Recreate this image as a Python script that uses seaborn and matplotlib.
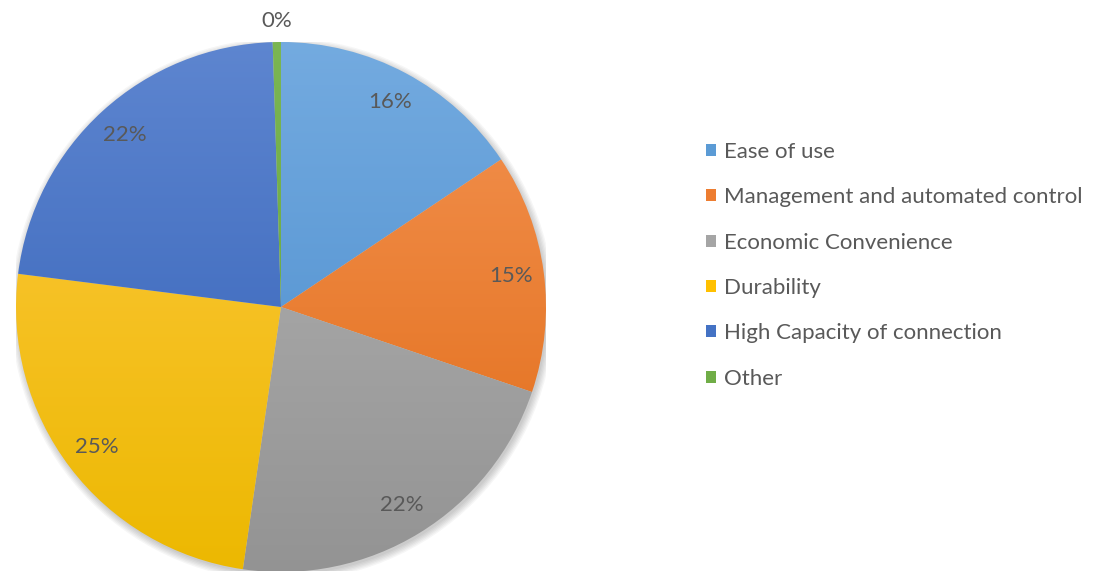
import numpy as np
import matplotlib
matplotlib.use("Agg")
import matplotlib.pyplot as plt
import seaborn as sns
from matplotlib.colors import to_rgb
from matplotlib.patches import Patch, Circle

categories = ["Ease of use", "Management and automated control", "Economic Convenience",
              "Durability", "High Capacity of connection", "Other"]
shares = [15.6, 14.6, 22.1, 24.7, 22.5, 0.5]
pct_labels = ["16%", "15%", "22%", "25%", "22%", "0%"]

base_colors = ["#5B9BD5", "#ED7D31", "#A5A5A5", "#FFC000", "#4472C4", "#70AD47"]
top_colors = ["#74ABE0", "#F49454", "#B5B5B5", "#FFCA45", "#5E86D0", "#7BB653"]
bottom_colors = ["#4689CB", "#E06A14", "#939393", "#ECB800", "#2F5DB5", "#62A03B"]

sns.set_theme(style="white")
plt.rcParams['font.family'] = ['Lato', 'DejaVu Sans']
text_color = "#595959"

fig = plt.figure(figsize=(10.98, 5.71), dpi=100)
ax = fig.add_axes([16 / 1098, -1 / 571, 530 / 1098, 530 / 571])

# soft shadow
for k in range(6):
    ax.add_patch(Circle((0.006, -0.01), 1.0 + 0.005 * k, color="black", alpha=0.035, lw=0, zorder=0))

wedges, _ = ax.pie(shares, colors=base_colors, startangle=90, counterclock=False,
                   radius=1.0, wedgeprops=dict(linewidth=0))

n = 256
t = np.linspace(0, 1, n)[:, None]
for w, c0, c1 in zip(wedges, top_colors, bottom_colors):
    a = np.array(to_rgb(c0))
    b = np.array(to_rgb(c1))
    img = (a[None, :] * (1 - t) + b[None, :] * t)[:, None, :]
    im = ax.imshow(img, extent=(-1.02, 1.02, -1.02, 1.02), origin="upper", aspect="auto",
                   zorder=w.get_zorder(), interpolation="bilinear")
    im.set_clip_path(w)
    w.set_facecolor("none")

for w, lab in zip(wedges, pct_labels):
    ang = np.deg2rad((w.theta1 + w.theta2) / 2)
    r = 0.875 if lab != "0%" else 1.08
    ax.text(r * np.cos(ang), r * np.sin(ang), lab, ha="center", va="center",
            fontsize=16, color=text_color, zorder=10)

ax.set_xlim(-1, 1)
ax.set_ylim(-1, 1)
ax.set_aspect("equal")
ax.axis("off")

handles = [Patch(facecolor=c, edgecolor="none") for c in base_colors]
fig.legend(handles=handles, labels=categories, loc="upper left",
           bbox_to_anchor=(706 / 1098, 1 - 142 / 571), frameon=False, fontsize=16,
           handlelength=0.45, handleheight=0.45, handletextpad=0.36, labelspacing=1.14,
           labelcolor=text_color, borderaxespad=0, borderpad=0)

fig.savefig("out.png", dpi=100)
